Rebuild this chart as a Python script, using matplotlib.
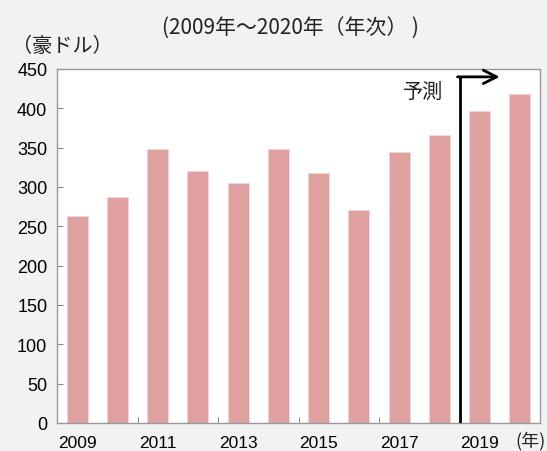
import matplotlib
matplotlib.use("Agg")
import matplotlib.pyplot as plt

plt.rcParams['font.family'] = ['Liberation Sans', 'Noto Sans CJK JP', 'DejaVu Sans']

years = [2009, 2010, 2011, 2012, 2013, 2014, 2015, 2016, 2017, 2018, 2019, 2020]
values = [263, 287, 348, 320, 305, 348, 318, 271, 344, 366, 397, 418]
year_labels = ['2009', '2011', '2013', '2015', '2017', '2019']

fig = plt.figure(figsize=(5.47, 4.52), dpi=100, facecolor='#f2f2f2')
ax = fig.add_axes([57 / 547, 28 / 452, 483 / 547, 354 / 452])
ax.set_facecolor('white')

x = list(range(len(years)))
ax.bar(x, values, width=0.52, color='#dfa0a0', edgecolor='#f3d6d6', linewidth=0.6)

ax.set_xlim(-0.5, len(years) - 0.5)
ax.set_ylim(0, 450)
ax.set_yticks(range(0, 451, 50))
ax.set_xticks([1.5, 3.5, 5.5, 7.5, 9.5])
ax.set_xticklabels([])
ax.tick_params(axis='both', direction='in', length=4, color='#888888', labelsize=13)
ax.tick_params(axis='y', pad=7)
for i, lab in zip(range(0, 12, 2), year_labels):
    ax.text(i, -25, lab, ha='center', va='center', fontsize=12.5)
for s in ax.spines.values():
    s.set_color('#999999')
    s.set_linewidth(1.0)

# forecast arrow
ax.plot([9.5, 9.5], [0, 440], color='black', lw=2, solid_capstyle='butt', zorder=3)
ax.annotate('', xy=(10.5, 440), xytext=(9.45, 440),
            arrowprops=dict(arrowstyle='->', lw=2, color='black',
                            mutation_scale=24, shrinkA=0, shrinkB=0))
ax.text(8.6, 421, '予測', ha='center', va='center', fontsize=14.5,
        family=['Noto Sans CJK JP'], color='#222222')

fig.text(290 / 547, 1 - 29 / 452, '(2009年～2020年（年次） )', ha='center', va='center',
         fontsize=15, family=['Noto Sans CJK JP'], color='#222222')
fig.text(62 / 547, 1 - 46 / 452, '（豪ドル）', ha='center', va='center',
         fontsize=14.5, family=['Noto Sans CJK JP'], color='#222222')
fig.text(546 / 547, 1 - 441 / 452, '(年)', ha='right', va='center',
         fontsize=13, family=['Noto Sans CJK JP'], color='#222222')

fig.savefig('out.png', dpi=100, facecolor=fig.get_facecolor())
